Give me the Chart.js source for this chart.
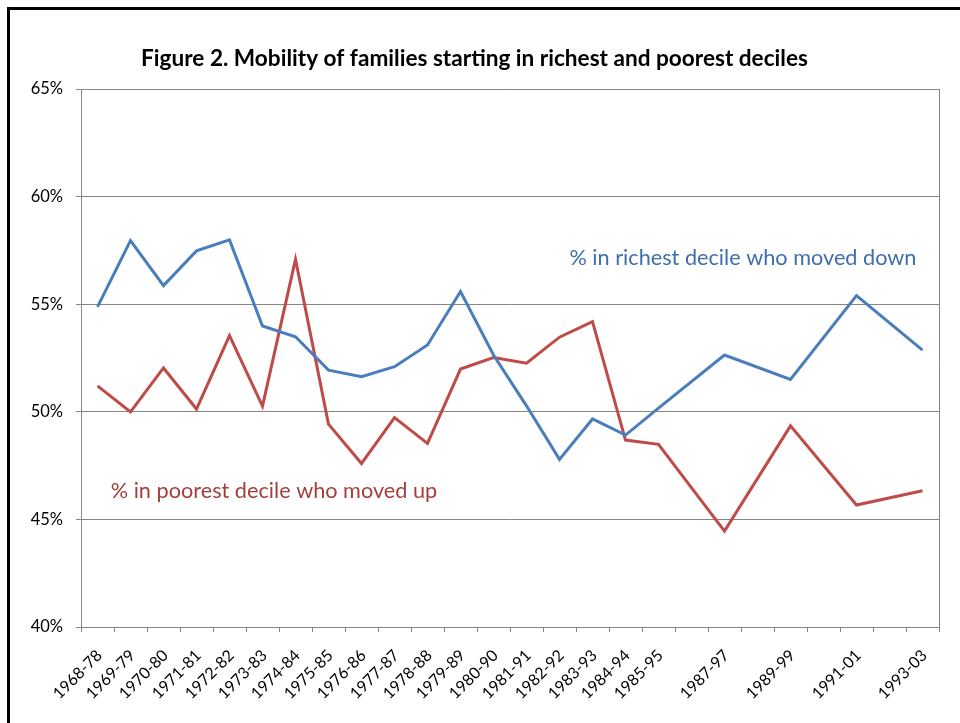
<!DOCTYPE html>
<html>
<head>
<meta charset="utf-8">
<script src="https://cdn.jsdelivr.net/npm/chart.js@4.4.1/dist/chart.umd.min.js"></script>
<style>
  html, body { margin: 0; padding: 0; background: #fff; overflow: hidden; }
  #frame { position: absolute; left: 7px; top: 7px; width: 1000px; height: 1000px;
           border-left: 3px solid #000; border-top: 3px solid #000; }
  #wrap { position: absolute; left: 0; top: 0; width: 960px; height: 723px; }
</style>
</head>
<body>
<div id="frame"></div>
<div id="wrap"><canvas id="chart"></canvas></div>
<script>
// periods (start year is used as the x position)
const periods = ['1968-78', '1969-79', '1970-80', '1971-81', '1972-82', '1973-83', '1974-84',
    '1975-85', '1976-86', '1977-87', '1978-88', '1979-89', '1980-90', '1981-91', '1982-92',
    '1983-93', '1984-94', '1985-95', '1987-97', '1989-99', '1991-01', '1993-03'];

// % in richest decile who moved down
const richestDown = [54.88, 57.96, 55.87, 57.48, 57.99, 53.99, 53.49, 51.94, 51.63, 52.1, 53.11,
    55.59, 52.64, 50.28, 47.79, 49.67, 48.92, 50.17, 52.64, 51.51, 55.4, 52.87];

// % in poorest decile who moved up
const poorestUp = [51.21, 50.0, 52.04, 50.13, 53.54, 50.27, 57.09, 49.43, 47.6, 49.73, 48.53,
    51.99, 52.52, 52.26, 53.47, 54.19, 48.69, 48.49, 44.46, 49.35, 45.67, 46.33];

const yTicks = [40, 45, 50, 55, 60, 65];

const startYears = periods.map(p => parseInt(p, 10));
const labelByYear = {};
periods.forEach((p, i) => { labelByYear[startYears[i]] = p; });

const firstYear = startYears[0];
const lastYear = startYears[startYears.length - 1];
const tickYears = [];
for (let y = firstYear; y <= lastYear; y++) tickYears.push(y);

const blue = '#4A7EBB';
const red = '#BE4B48';
const gridGray = '#868686';

// text labels written inside the plot
const notes = [
    { text: '% in richest decile who moved down', x: 1982.3, y: 57.15, color: '#3f6ead' },
    { text: '% in poorest decile who moved up', x: 1968.4, y: 46.3, color: '#a33f3c' }
];

const notesPlugin = {
    id: 'notes',
    afterDatasetsDraw(chart) {
        const { ctx, scales: { x, y } } = chart;
        ctx.save();
        ctx.font = '21.7px Lato';
        ctx.textAlign = 'left';
        ctx.textBaseline = 'middle';
        notes.forEach(n => {
            ctx.fillStyle = n.color;
            ctx.fillText(n.text, x.getPixelForValue(n.x), y.getPixelForValue(n.y));
        });
        ctx.restore();
    }
};

const rightBorder = {
    id: 'rightBorder',
    beforeDatasetsDraw(chart) {
        const { ctx, chartArea: a } = chart;
        ctx.save();
        ctx.strokeStyle = gridGray;
        ctx.lineWidth = 1;
        ctx.beginPath();
        ctx.moveTo(Math.round(a.right) + 0.5, a.top);
        ctx.lineTo(Math.round(a.right) + 0.5, a.bottom + 5);
        ctx.stroke();
        ctx.restore();
    }
};

new Chart(document.getElementById('chart'), {
    type: 'line',
    data: {
        datasets: [
            {
                label: '% in richest decile who moved down',
                data: richestDown.map((v, i) => ({ x: startYears[i], y: v })),
                borderColor: blue,
                borderWidth: 3,
                pointRadius: 0,
                tension: 0,
                fill: false
            },
            {
                label: '% in poorest decile who moved up',
                data: poorestUp.map((v, i) => ({ x: startYears[i], y: v })),
                borderColor: red,
                borderWidth: 3,
                pointRadius: 0,
                tension: 0,
                fill: false
            }
        ]
    },
    options: {
        responsive: true,
        maintainAspectRatio: false,
        animation: false,
        layout: { padding: { top: 10, left: 10, right: 21, bottom: 0 } },
        plugins: {
            legend: { display: false },
            tooltip: { enabled: false },
            title: {
                display: true,
                text: 'Figure 2. Mobility of families starting in richest and poorest deciles',
                color: '#000',
                font: { family: 'Lato', size: 22.6, weight: 'bold' },
                padding: { top: 35, bottom: 17 }
            }
        },
        scales: {
            x: {
                type: 'linear',
                min: firstYear - 0.5,
                max: lastYear + 0.5,
                afterBuildTicks: s => { s.ticks = tickYears.map(v => ({ value: v })); },
                afterFit: s => { s.height = 96; },
                ticks: {
                    autoSkip: false,
                    minRotation: 45,
                    maxRotation: 45,
                    padding: 14,
                    labelOffset: 2,
                    color: '#000',
                    font: { family: 'Lato', size: 16 },
                    callback: v => labelByYear[v] || ''
                },
                grid: {
                    offset: true,
                    drawOnChartArea: false,
                    drawTicks: true,
                    tickLength: 5,
                    color: gridGray
                },
                border: { color: gridGray }
            },
            y: {
                min: yTicks[0],
                max: yTicks[yTicks.length - 1],
                afterBuildTicks: s => { s.ticks = yTicks.map(v => ({ value: v })); },
                afterFit: s => { s.width = 71; },
                ticks: {
                    padding: 13,
                    color: '#000',
                    font: { family: 'Lato', size: 16.5 },
                    callback: v => v + '%'
                },
                grid: { color: gridGray, tickLength: 5 },
                border: { color: gridGray }
            }
        }
    },
    plugins: [notesPlugin, rightBorder]
});
</script>
</body>
</html>
